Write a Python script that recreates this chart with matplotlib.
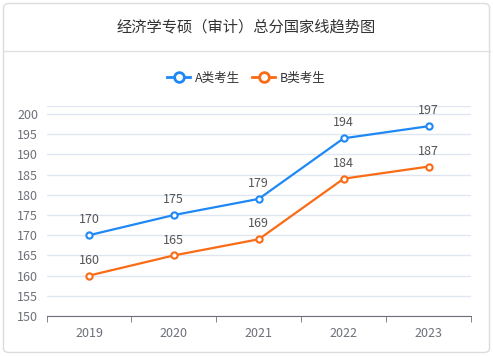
import matplotlib.pyplot as plt
from matplotlib.patches import FancyBboxPatch
from matplotlib.lines import Line2D

plt.rcParams['font.family'] = ['Noto Sans CJK SC', 'DejaVu Sans']

years = ['2019', '2020', '2021', '2022', '2023']
a_scores = [170, 175, 179, 194, 197]
b_scores = [160, 165, 169, 184, 187]
series = [('A类考生', a_scores, '#1e88f5'), ('B类考生', b_scores, '#fa6b14')]

W, H = 493, 356
fig = plt.figure(figsize=(W / 100, H / 100), dpi=100)

# card frame + header
card = FancyBboxPatch((3.5 / W, 3.5 / H), (W - 7) / W, (H - 7) / H,
                      boxstyle='round,pad=0,rounding_size=0.012',
                      transform=fig.transFigure, fc='white', ec='#dcdcdc', lw=1, zorder=-5)
fig.add_artist(card)
fig.add_artist(Line2D([3.5 / W, (W - 3.5) / W], [1 - 51 / H] * 2, color='#e2e2e2', lw=1, zorder=-4))
fig.text(0.5, 1 - 27 / H, '经济学专硕（审计）总分国家线趋势图', ha='center', va='center',
         fontsize=11, color='#333333')

ax = fig.add_axes([46.5 / W, 40 / H, 424.5 / W, 210 / H])
ax.patch.set_alpha(0)
x = range(len(years))
for name, vals, col in series:
    ax.plot(x, vals, color=col, lw=1.6, marker='o', ms=4.5, mfc='white', mec=col, mew=1.5,
            label=name, zorder=3)
    for i, v in zip(x, vals):
        ax.text(i, v + 2.2, str(v), ha='center', va='bottom', fontsize=9, color='#555555')

ax.set_xlim(-0.5, len(years) - 0.5)
ax.set_ylim(150, 202)
ax.set_yticks(range(150, 201, 5))
ax.set_xticks(list(x))
ax.set_xticklabels(years)
ax.set_xticks([i - 0.5 for i in range(len(years) + 1)], minor=True)
ax.tick_params(axis='x', which='major', length=0, pad=8, labelsize=9, colors='#6e7079')
ax.tick_params(axis='x', which='minor', length=4, color='#6e7079')
ax.tick_params(axis='y', length=0, pad=6, labelsize=9, colors='#6e7079')
ax.grid(axis='y', color='#e0e6f1', lw=1)
ax.axhline(202, color='#e0e6f1', lw=1)
for s in ['top', 'right', 'left']:
    ax.spines[s].set_visible(False)
ax.spines['bottom'].set_color('#6e7079')
ax.set_axisbelow(True)

handles = [Line2D([], [], color=col, lw=2, marker='o', ms=7, mfc='white', mec=col, mew=2)
           for _, _, col in series]
fig.legend(handles, [s[0] for s in series], loc='center', bbox_to_anchor=(0.5, 1 - 78 / H),
           ncol=2, frameon=False, fontsize=9, handlelength=1.8, columnspacing=1.0,
           handletextpad=0.4, labelcolor='#333333')

fig.savefig('out.png', dpi=100)
